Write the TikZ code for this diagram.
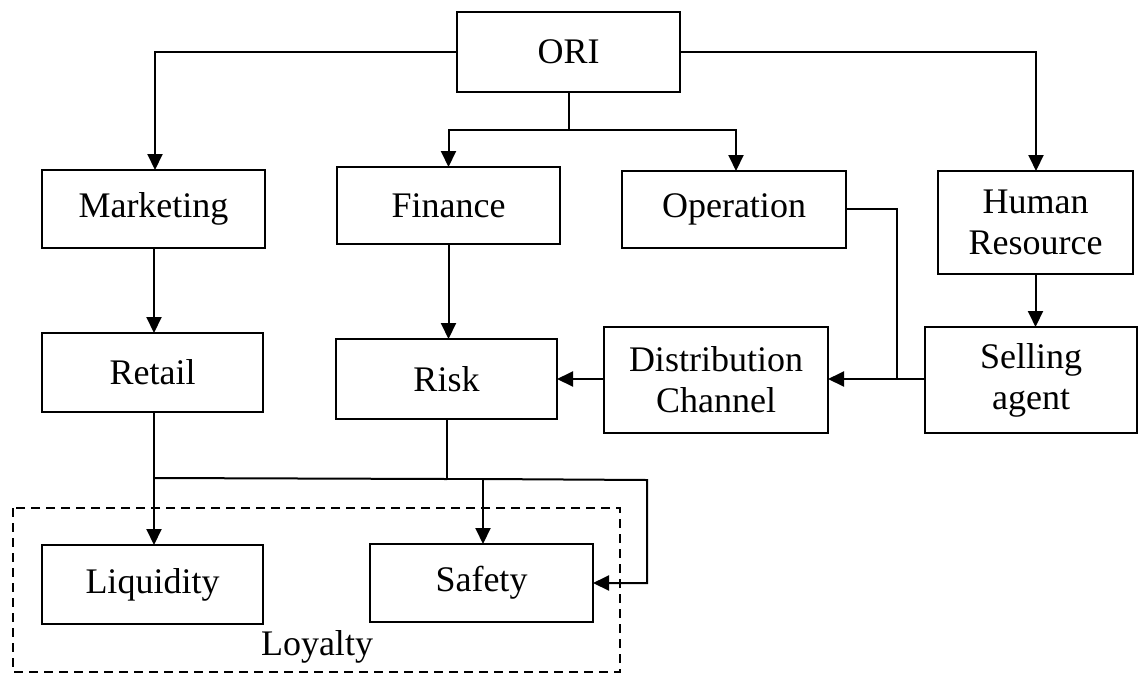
\documentclass[tikz,border=0pt]{standalone}
\usepackage{fontspec}
\setmainfont{Liberation Serif}
\usetikzlibrary{arrows.meta}
\tikzset{
  box/.style={draw, line width=2.2pt, inner sep=0pt, outer sep=0pt, align=center,
    font=\fontsize{36}{41}\selectfont},
  conn/.style={line width=2pt},
  arr/.style={line width=2pt, -{Triangle[length=16pt,width=15pt]}},
  grp/.style={draw, line width=1.8pt, dash pattern=on 9pt off 6pt},
  lbl/.style={inner sep=0pt, font=\fontsize{36}{41}\selectfont}
}
\begin{document}
\begin{tikzpicture}[x=1pt,y=-1pt]
\useasboundingbox (0,0) rectangle (1139,675);
% group box
\draw[grp] (13,508) rectangle (620,672);
\node[lbl] (loy) at (317,647) {Loyalty};
% boxes
\node[box, minimum width=223pt, minimum height=80pt] (ori) at (568.5,52) {ORI};
\node[box, minimum width=223pt, minimum height=78pt] (mkt) at (153.5,209) {Marketing};
\node[box, minimum width=223pt, minimum height=77pt] (fin) at (448.5,205.5) {Finance};
\node[box, minimum width=224pt, minimum height=77pt] (ope) at (734,209.5) {Operation};
\node[box, minimum width=195pt, minimum height=103pt] (hr) at (1035.5,222.5) {Human\\Resource};
\node[box, minimum width=221pt, minimum height=79pt] (ret) at (152.5,372.5) {Retail};
\node[box, minimum width=221pt, minimum height=80pt] (risk) at (446.5,379) {Risk};
\node[box, minimum width=224pt, minimum height=106pt] (dist) at (716,380) {Distribution\\Channel};
\node[box, minimum width=212pt, minimum height=106pt] (sell) at (1031,380) {Selling\\agent};
\node[box, minimum width=221pt, minimum height=79pt] (liq) at (152.5,584.5) {Liquidity};
\node[box, minimum width=223pt, minimum height=78pt] (saf) at (481.5,583) {Safety};
% coordinates
\coordinate (oriL) at (155,52);
\coordinate (oriR) at (1036,52);
\coordinate (oriD) at (568.5,130);
\coordinate (finT) at (448.5,130);
\coordinate (opeT) at (736,130);
\coordinate (opeR) at (897,209);
\coordinate (jn) at (897,379);
\coordinate (retD) at (154,478);
\coordinate (riskD) at (447,479);
\coordinate (safT) at (483,479);
\coordinate (loopR) at (647,480);
\coordinate (loopD) at (647,583);
% connectors
\draw[arr] (ori.west) -- (oriL) -- (oriL |- mkt.north);
\draw[arr] (ori.east) -- (oriR) -- (oriR |- hr.north);
\draw[conn] (ori.south) -- (oriD);
\draw[arr] (oriD) -- (finT) -- (finT |- fin.north);
\draw[arr] (oriD) -- (opeT) -- (opeT |- ope.north);
\draw[arr] (mkt.south -| retD) -- (retD |- ret.north);
\draw[arr] (fin.south) -- (fin.south |- risk.north);
\draw[arr] (hr.south) -- (hr.south |- sell.north);
\draw[arr] (ope.east |- opeR) -- (opeR) -- (jn) -- (jn -| dist.east);
\draw[conn] (sell.west |- jn) -- (jn);
\draw[arr] (dist.west |- risk.east) -- (risk.east);
\draw[arr] (ret.south -| retD) -- (retD) -- (retD |- liq.north);
\draw[conn] (retD) -- (riskD);
\draw[arr] (risk.south -| riskD) -- (riskD) -- (safT) -- (safT |- saf.north);
\draw[arr] (safT) -- (loopR) -- (loopD) -- (loopD -| saf.east);
\end{tikzpicture}
\end{document}
